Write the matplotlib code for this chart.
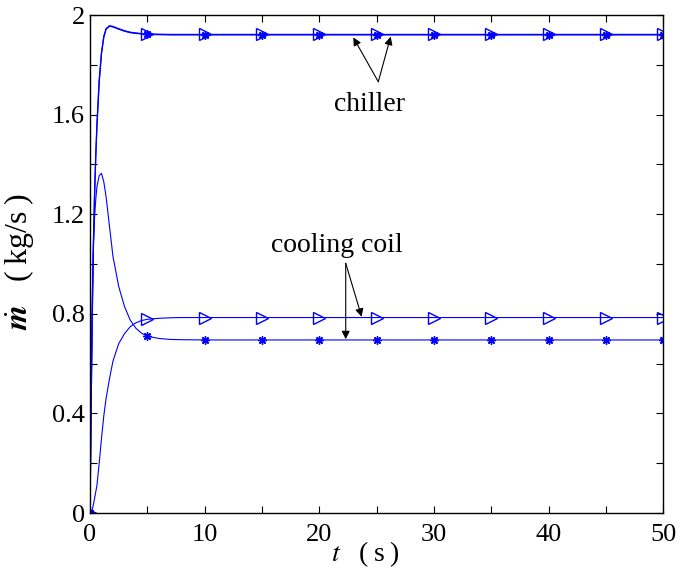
import matplotlib.pyplot as plt
from matplotlib.ticker import MultipleLocator

plt.rcParams['font.family'] = 'Liberation Serif'
plt.rcParams['mathtext.fontset'] = 'stix'

# tiempo (s)
t = [0, 0.1, 0.2, 0.3, 0.4, 0.5, 0.6, 0.8, 1.0, 1.2, 1.4, 1.7, 2.0, 2.5, 3.0,
     3.5, 4.0, 4.5, 5, 6, 7, 8, 10, 15, 20, 25, 30, 35, 40, 45, 50]

# chiller (dos curvas casi iguales)
chiller_tri = [0, 0.45, 0.82, 1.10, 1.29, 1.44, 1.56, 1.74, 1.85, 1.915, 1.945,
               1.957, 1.954, 1.945, 1.937, 1.931, 1.928, 1.925, 1.924, 1.923,
               1.922, 1.922, 1.922, 1.922, 1.922, 1.922, 1.922, 1.922, 1.922,
               1.922, 1.922]
chiller_star = [0, 0.44, 0.80, 1.08, 1.28, 1.43, 1.55, 1.73, 1.845, 1.91, 1.943,
                1.955, 1.952, 1.943, 1.935, 1.929, 1.926, 1.924, 1.922, 1.921,
                1.92, 1.92, 1.92, 1.92, 1.92, 1.92, 1.92, 1.92, 1.92, 1.92, 1.92]

# cooling coil
coil_tri = [0, 0.004, 0.015, 0.035, 0.06, 0.085, 0.11, 0.2, 0.3, 0.39, 0.46,
            0.54, 0.61, 0.68, 0.72, 0.748, 0.764, 0.773, 0.778, 0.782, 0.784,
            0.785, 0.785, 0.785, 0.785, 0.785, 0.785, 0.785, 0.785, 0.785, 0.785]
coil_star = [0, 0.50, 0.88, 1.08, 1.19, 1.26, 1.31, 1.355, 1.364, 1.33, 1.27,
             1.15, 1.03, 0.91, 0.83, 0.775, 0.742, 0.722, 0.71, 0.701, 0.697,
             0.696, 0.695, 0.695, 0.695, 0.695, 0.695, 0.695, 0.695, 0.695, 0.695]

marcas = [i for i, v in enumerate(t) if v % 5 == 0]

fig = plt.figure(figsize=(6.8, 5.77), dpi=100)
ax = fig.add_axes([0.1324, 0.1109, 0.8431, 0.8631])

azul = '#0000ff'
ax.plot(t, chiller_star, color=azul, lw=0.9, marker=(8, 2, 0), ms=6,
        markevery=marcas)
ax.plot(t, chiller_tri, color=azul, lw=0.9, marker='>', ms=8, mfc='none',
        markevery=marcas)
ax.plot(t, coil_tri, color=azul, lw=0.8, marker='>', ms=8, mfc='none',
        markevery=marcas)
ax.plot(t, coil_star, color=azul, lw=0.8, marker=(8, 2, 0), ms=6,
        markevery=marcas)

ax.set_xlim(0, 50)
ax.set_ylim(0, 2)
ax.set_xticks([0, 10, 20, 30, 40, 50])
ax.set_xticklabels(['0', '10', '20', '30', '40', '50'])
ax.set_yticks([0, 0.4, 0.8, 1.2, 1.6, 2])
ax.set_yticklabels(['0', '0.4', '0.8', '1.2', '1.6', '2'])
ax.xaxis.set_minor_locator(MultipleLocator(5))
ax.yaxis.set_minor_locator(MultipleLocator(0.2))
ax.tick_params(which='both', direction='in', top=True, right=True,
               length=5, width=0.8, labelsize=19)
ax.tick_params(axis='x', pad=8)
for s in ax.spines.values():
    s.set_linewidth(1.0)

ax.set_xlabel('$t\\quad$(\u2009s\u2009)', fontsize=20)
ax.set_ylabel('$\\dot{\\mathbfit{m}}\\quad$(\u2009kg/s\u2009)', fontsize=23)
ax.xaxis.set_label_coords(0.48, -0.052)
ax.yaxis.set_label_coords(-0.094, 0.505)

flecha = dict(arrowstyle='-|>', color='k', lw=0.8, mutation_scale=12,
              shrinkA=0, shrinkB=0)
ax.annotate('', xy=(22.96, 1.91), xytext=(25.14, 1.732), arrowprops=flecha)
ax.annotate('', xy=(26.22, 1.913), xytext=(25.14, 1.732), arrowprops=flecha)
ax.text(24.4, 1.64, 'chiller', fontsize=20, ha='center', va='center')

ax.annotate('', xy=(23.69, 0.788), xytext=(22.3, 1.003), arrowprops=flecha)
ax.annotate('', xy=(22.3, 0.698), xytext=(22.3, 1.003), arrowprops=flecha)
ax.text(21.5, 1.075, 'cooling coil', fontsize=20, ha='center', va='center')

plt.savefig('out.png', dpi=100)
